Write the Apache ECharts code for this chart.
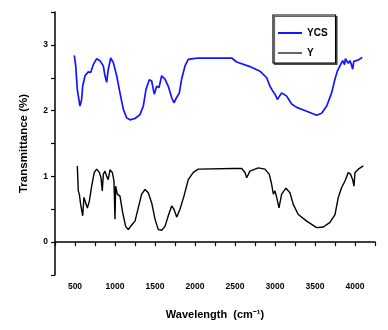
<!DOCTYPE html>
<html>
<head>
<meta charset="utf-8">
<script src="https://cdn.jsdelivr.net/npm/echarts@6/dist/echarts.min.js"></script>
<style>
  html, body { margin: 0; padding: 0; background: #fff; }
  #chart { width: 388px; height: 330px; }
</style>
</head>
<body>
<div id="chart"></div>
<script>
"use strict";

// 波数 (cm-1) 与透过率
let ycsWave = [491, 509, 529, 562, 583, 596, 625, 666, 696, 729, 771, 812, 854, 875, 896, 916, 946, 979,
  1021, 1062, 1104, 1146, 1187, 1250, 1312, 1354, 1387, 1429, 1458, 1491, 1521, 1550, 1583, 1625, 1666,
  1708, 1737, 1771, 1804, 1833, 1875, 1916, 1979, 2041, 2062, 2271, 2459, 2521, 2687, 2812, 2896, 2937,
  2971, 3000, 3029, 3083, 3146, 3208, 3271, 3396, 3521, 3583, 3646, 3708, 3750, 3779, 3812, 3846, 3870,
  3880, 3896, 3915, 3937, 3955, 3971, 3985, 4000, 4041, 4091];
let ycsValue = [2.84, 2.68, 2.32, 2.07, 2.17, 2.37, 2.53, 2.59, 2.58, 2.70, 2.79, 2.76, 2.68, 2.53, 2.43,
  2.63, 2.80, 2.73, 2.53, 2.27, 2.02, 1.89, 1.86, 1.88, 1.94, 2.07, 2.32, 2.47, 2.45, 2.25, 2.37, 2.35,
  2.53, 2.48, 2.37, 2.20, 2.12, 2.20, 2.27, 2.48, 2.68, 2.78, 2.79, 2.80, 2.78, 2.80, 2.80, 2.74, 2.67,
  2.60, 2.50, 2.37, 2.30, 2.25, 2.17, 2.27, 2.22, 2.10, 2.05, 1.99, 1.93, 1.96, 2.07, 2.27, 2.48, 2.60,
  2.68, 2.76, 2.70, 2.79, 2.78, 2.72, 2.76, 2.70, 2.63, 2.75, 2.74, 2.77, 2.81];

let yWave = [529, 541, 554, 571, 596, 612, 633, 654, 679, 708, 741, 771, 804, 825, 841, 854, 875, 896, 916,
  937, 966, 987, 1000, 1008, 1029, 1062, 1096, 1133, 1166, 1208, 1250, 1291, 1333, 1375, 1416, 1458, 1500,
  1541, 1583, 1625, 1666, 1708, 1737, 1771, 1812, 1862, 1916, 1979, 2041, 2062, 2479, 2583, 2625, 2646,
  2687, 2791, 2875, 2929, 2958, 2979, 3000, 3021, 3050, 3083, 3137, 3187, 3229, 3291, 3396, 3521, 3604,
  3687, 3750, 3791, 3833, 3875, 3916, 3946, 3971, 3987, 4000, 4041, 4104];
let yValue = [1.16, 0.78, 0.73, 0.57, 0.40, 0.68, 0.70, 0.52, 0.62, 0.85, 1.06, 1.11, 1.06, 0.98, 0.78,
  1.03, 1.08, 1.00, 0.95, 1.10, 1.06, 0.93, 0.35, 0.85, 0.73, 0.70, 0.45, 0.24, 0.19, 0.26, 0.32, 0.52,
  0.73, 0.80, 0.75, 0.60, 0.35, 0.19, 0.18, 0.24, 0.40, 0.55, 0.50, 0.38, 0.50, 0.70, 0.95, 1.06, 1.11,
  1.11, 1.12, 1.12, 1.06, 0.98, 1.08, 1.13, 1.11, 1.03, 0.88, 0.73, 0.78, 0.68, 0.52, 0.73, 0.82, 0.75,
  0.57, 0.42, 0.32, 0.22, 0.23, 0.30, 0.42, 0.68, 0.83, 0.93, 1.06, 1.03, 0.95, 0.85, 1.06, 1.11, 1.16];

function pairs(xs, ys) {
  return xs.map(function (x, i) { return [x, ys[i]]; });
}

let myChart = echarts.init(document.getElementById('chart'));

let tickFont = { fontFamily: 'Liberation Sans', fontWeight: 'bold', fontSize: 8.5, color: '#000' };
let nameFont = { fontFamily: 'Liberation Sans', fontWeight: 'bold', fontSize: 11, color: '#000' };

let option = {
  animation: false,
  backgroundColor: '#fff',
  grid: { left: 55, right: 13, top: 12, bottom: 55 },
  legend: { // 图例
    orient: 'vertical',
    left: 273,
    top: 15,
    padding: [13, 8, 5, 4],
    itemWidth: 24,
    itemHeight: 10,
    itemGap: 10,
    borderColor: '#000',
    borderWidth: 1.2,
    backgroundColor: '#fff',
    shadowColor: 'rgba(0,0,0,0.6)',
    shadowOffsetX: 1.5,
    shadowOffsetY: 1.5,
    itemStyle: { opacity: 0 },
    textStyle: { fontFamily: 'Liberation Sans', fontWeight: 'bold', fontSize: 10, color: '#000' },
    data: [
      { name: 'YCS', lineStyle: { width: 2 } },
      { name: 'Y', lineStyle: { width: 1.2, color: '#000' } },
    ],
  },
  xAxis: {
    type: 'value',
    min: 250,
    max: 4250,
    interval: 250,
    name: 'Wavelength  (cm\u207B\u00B9)',
    nameLocation: 'middle',
    nameGap: 34,
    nameTextStyle: nameFont,
    axisLine: { lineStyle: { color: '#000', width: 1.5 } },
    axisTick: { length: 4, lineStyle: { color: '#000', width: 1.2 } },
    splitLine: { show: false },
    axisLabel: Object.assign({
      margin: 7,
      formatter: function (v) { return v % 500 === 0 ? String(v) : ''; },
    }, tickFont),
  },
  yAxis: {
    type: 'value',
    min: -0.5,
    max: 3.5,
    interval: 0.5,
    name: 'Transmittance (%)',
    nameLocation: 'middle',
    nameGap: 25,
    nameTextStyle: Object.assign({}, nameFont, { fontSize: 11.5 }),
    axisLine: { show: true, lineStyle: { color: '#000', width: 1.5 } },
    axisTick: { show: true, length: 4, lineStyle: { color: '#000', width: 1.2 } },
    splitLine: { show: false },
    axisLabel: Object.assign({
      margin: 7,
      formatter: function (v) { return Number.isInteger(v) ? String(v) : ''; },
    }, tickFont),
  },
  series: [
    {
      name: 'YCS',
      type: 'line',
      symbol: 'none',
      data: pairs(ycsWave, ycsValue),
      lineStyle: { color: '#1414ff', width: 1.7 },
      itemStyle: { color: '#1414ff' },
    },
    {
      name: 'Y',
      type: 'line',
      symbol: 'none',
      data: pairs(yWave, yValue),
      lineStyle: { color: '#000', width: 1.4 },
      itemStyle: { color: '#000' },
    },
  ],
};

myChart.setOption(option);
</script>
</body>
</html>
